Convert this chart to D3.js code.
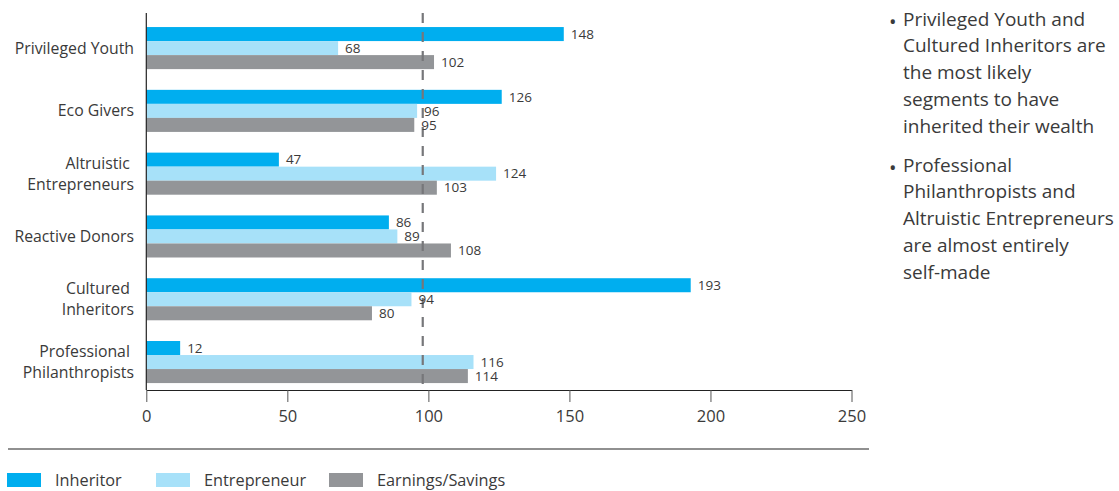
<!DOCTYPE html>
<html>
<head>
<meta charset="utf-8">
<script src="https://cdn.jsdelivr.net/npm/d3@7"></script>
<style>
    body { margin: 0; background: #fff; }
    svg text { font-family: "Open Sans", "Noto Sans", sans-serif; fill: #3a3a3a; }
</style>
</head>
<body>
<div id="chart"></div>
<script>
// segments, top to bottom (lines of each label)
var segments = ["Privileged Youth", "Eco Givers", "Altruistic Entrepreneurs", "Reactive Donors", "Cultured Inheritors", "Professional Philanthropists"];
var segmentLines = [["Privileged Youth"], ["Eco Givers"], ["Altruistic ", "Entrepreneurs"], ["Reactive Donors"], ["Cultured ", "Inheritors"], ["Professional ", "Philanthropists"]];
var seriesNames = ["Inheritor", "Entrepreneur", "Earnings/Savings"];
var inheritor = [148, 126, 47, 86, 193, 12];
var entrepreneur = [68, 96, 124, 89, 94, 116];
var earnings = [102, 95, 103, 108, 80, 114];
var xTicks = [0, 50, 100, 150, 200, 250];
var referenceValue = 98; // dashed line sits just left of 100 in the original
var notes = [
    ["Privileged Youth and", "Cultured Inheritors are", "the most likely", "segments to have", "inherited their wealth"],
    ["Professional", "Philanthropists and", "Altruistic Entrepreneurs", "are almost entirely", "self-made"]
];

var colors = ["#00aeef", "#a7e1f9", "#939598"];
var series = [inheritor, entrepreneur, earnings];

var svgWidth = 1119;
var svgHeight = 491;

var svg = d3.select("#chart")
    .append("svg")
    .attr("width", svgWidth)
    .attr("height", svgHeight);

var x = d3.scaleLinear()
    .domain([0, 250])
    .range([146.3, 851.5]);

var y = d3.scaleBand()
    .domain(segments)
    .range([13, 390])
    .paddingInner(0.33)
    .paddingOuter(0.167)
    .align(0.67);

var ySub = d3.scaleBand()
    .domain(seriesNames)
    .range([0, y.bandwidth()]);

// bars
series.forEach(function (values, s) {
    svg.append("g").selectAll("rect")
        .data(values)
        .enter()
        .append("rect")
        .attr("x", x(0))
        .attr("y", (d, i) => y(segments[i]) + ySub(seriesNames[s]))
        .attr("width", d => x(d) - x(0))
        .attr("height", ySub.bandwidth())
        .attr("fill", colors[s]);
});

// dashed reference line
svg.append("line")
    .attr("x1", x(referenceValue))
    .attr("x2", x(referenceValue))
    .attr("y1", 13)
    .attr("y2", 390)
    .attr("stroke", "#76777a")
    .attr("stroke-width", 2.2)
    .attr("stroke-dasharray", "10,9");

// value labels
series.forEach(function (values, s) {
    svg.append("g").selectAll("text")
        .data(values)
        .enter()
        .append("text")
        .attr("x", d => x(d) + 7)
        .attr("y", (d, i) => y(segments[i]) + ySub(seriesNames[s]) + ySub.bandwidth() / 2)
        .attr("dy", "0.35em")
        .attr("font-size", 13.5)
        .text(d => d);
});

// y axis line
svg.append("line")
    .attr("x1", x(0)).attr("x2", x(0))
    .attr("y1", 13).attr("y2", 390)
    .attr("stroke", "#222").attr("stroke-width", 1.2);

// category labels
var catGroup = svg.append("g");
segmentLines.forEach(function (lines, i) {
    var cy = y(segments[i]) + y.bandwidth() / 2;
    var t = catGroup.append("text")
        .attr("x", 134)
        .attr("y", cy - (lines.length - 1) * 10.5)
        .attr("text-anchor", "end")
        .attr("font-size", 15.8)
        .attr("xml:space", "preserve")
        .style("white-space", "pre");
    lines.forEach(function (line, j) {
        t.append("tspan")
            .attr("x", 134)
            .attr("dy", j === 0 ? "0.35em" : 21)
            .text(line);
    });
});

// x axis
var bottomAxis = d3.axisBottom(x).tickValues(xTicks).tickSize(12).tickSizeOuter(0).tickPadding(8);
var xAxis = svg.append("g")
    .attr("transform", "translate(0, 390)")
    .call(bottomAxis);
xAxis.select(".domain").attr("stroke", "#222").attr("stroke-width", 1.2);
xAxis.selectAll(".tick line").attr("stroke", "#555");
xAxis.selectAll(".tick text")
    .attr("font-size", 16.5)
    .attr("font-family", "'Open Sans', 'Noto Sans', sans-serif")
    .attr("fill", "#3a3a3a");

// separator rule
svg.append("line")
    .attr("x1", 8).attr("x2", 869)
    .attr("y1", 449).attr("y2", 449)
    .attr("stroke", "#222").attr("stroke-width", 1.2);

// legend
var legendX = [7, 156, 329];
var legend = svg.append("g");
seriesNames.forEach(function (name, s) {
    legend.append("rect")
        .attr("x", legendX[s]).attr("y", 473)
        .attr("width", 34).attr("height", 14)
        .attr("fill", colors[s]);
    legend.append("text")
        .attr("x", legendX[s] + 48).attr("y", 480)
        .attr("dy", "0.35em")
        .attr("font-size", 16.3)
        .text(name);
});

// notes on the right
var noteY = [19, 165];
notes.forEach(function (lines, n) {
    svg.append("text")
        .attr("x", 889).attr("y", noteY[n] + 3)
        .attr("dy", "0.35em")
        .attr("font-size", 20)
        .attr("fill", "#444")
        .text("\u2022");
    var t = svg.append("text")
        .attr("x", 903).attr("y", noteY[n])
        .attr("font-size", 19)
        .attr("fill", "#444");
    lines.forEach(function (line, j) {
        t.append("tspan")
            .attr("x", 903)
            .attr("dy", j === 0 ? "0.35em" : 26.8)
            .text(line);
    });
});
</script>
</body>
</html>
